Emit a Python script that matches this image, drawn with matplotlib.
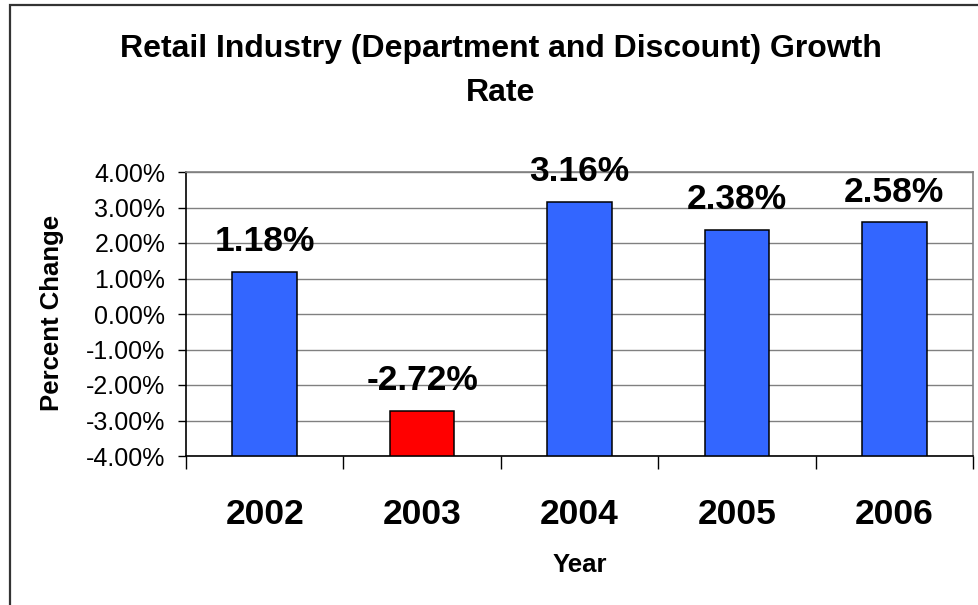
"""Retail industry (department and discount) growth rate by year."""
import numpy as np
import matplotlib
matplotlib.use("Agg")
import matplotlib.pyplot as plt
from matplotlib.patches import Rectangle
from matplotlib.ticker import FuncFormatter, FixedLocator

plt.rcParams['font.family'] = ['Liberation Sans', 'DejaVu Sans']

years = ["2002", "2003", "2004", "2005", "2006"]
growth = [1.18, -2.72, 3.16, 2.38, 2.58]   # percent
bar_colors = ["#3366FF", "#FF0000", "#3366FF", "#3366FF", "#3366FF"]

y_min, y_max = -4.0, 4.0

fig = plt.figure(figsize=(9.79, 6.05), dpi=100)
ax = fig.add_axes([186 / 979, 149 / 605, 787 / 979, 284 / 605])

x = np.arange(1, len(years) + 1)
vals = np.array(growth)

# bars hang from the bottom of the value axis, like the old spreadsheet chart
ax.bar(x, vals - y_min, bottom=y_min, width=0.41, color=bar_colors,
       edgecolor="black", linewidth=1.1, zorder=3)

for xi, v in zip(x, vals):
    ax.annotate(f"{v:.2f}%", (xi, v), xytext=(0, 15), textcoords="offset points",
                ha="center", va="baseline", fontsize=25.5, fontweight="bold",
                zorder=4, annotation_clip=False)

ax.set_xlim(0.5, len(years) + 0.5)
ax.set_ylim(y_min, y_max)

ax.set_yticks(np.arange(y_min, y_max + 0.5, 1.0))
ax.yaxis.set_major_formatter(FuncFormatter(lambda v, p: f"{v:.2f}%"))
ax.tick_params(axis="y", length=6, width=1, color="black", labelsize=18, pad=9)
ax.grid(axis="y", color="#808080", linewidth=1.0, zorder=0)

# year names centred under bars, ticks between categories
ax.set_xticks(x)
ax.set_xticklabels(years, fontsize=25.5, fontweight="bold")
ax.tick_params(axis="x", which="major", length=0, pad=30)
ax.xaxis.set_minor_locator(FixedLocator(np.arange(0.5, len(years) + 1, 1.0)))
ax.tick_params(axis="x", which="minor", length=9, width=1, color="black")

for side in ["top", "right"]:
    ax.spines[side].set_color("#808080")
    ax.spines[side].set_linewidth(1.2)
for side in ["left", "bottom"]:
    ax.spines[side].set_color("black")
    ax.spines[side].set_linewidth(1.2)

ax.set_xlabel("Year", fontsize=18.5, fontweight="bold", va="center")
ax.xaxis.set_label_coords(0.5, -0.383)
ax.set_ylabel("Percent Change", fontsize=18.5, fontweight="bold", va="center")
ax.yaxis.set_label_coords(-0.170, 0.505)

fig.text(501 / 979, 1 - 71 / 605,
         "Retail Industry (Department and Discount) Growth\nRate",
         ha="center", va="center", multialignment="center",
         fontsize=23, fontweight="bold", linespacing=1.65)

# chart frame
fig.add_artist(Rectangle((10 / 979, -0.05), 1.0, 1.05 - 5 / 605,
                         transform=fig.transFigure, fill=False,
                         edgecolor="#333333", linewidth=1.6))

fig.savefig("out.png", dpi=100)
